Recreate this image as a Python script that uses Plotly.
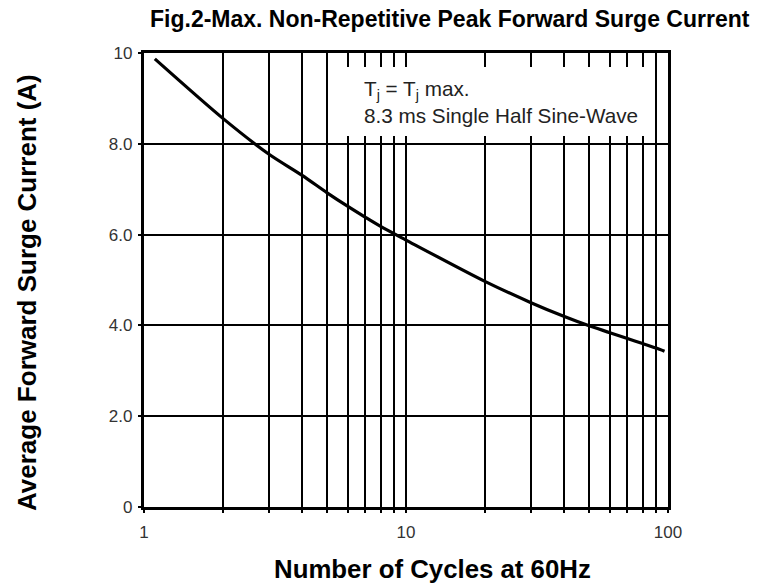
import math
import plotly.graph_objects as go

# ---- data ----
cycles = [1.1, 2, 3, 4, 5, 6, 7, 8, 10, 20, 30, 40, 50, 60, 70, 80, 90, 97]
current = [9.87, 8.56, 7.77, 7.31, 6.92, 6.62, 6.38, 6.18, 5.88, 4.97, 4.50,
           4.20, 3.99, 3.84, 3.71, 3.60, 3.50, 3.43]

x_grid = [1, 2, 3, 4, 5, 6, 7, 8, 9, 10, 20, 30, 40, 50, 60, 70, 80, 90, 100]
x_labels = ["1", "", "", "", "", "", "", "", "", "10", "", "", "", "", "", "", "", "", "100"]
y_ticks = [0, 2, 4, 6, 8, 10]
y_labels = ["0", "2.0", "4.0", "6.0", "8.0", "10"]

title = "<b>Fig.2-Max. Non-Repetitive Peak Forward Surge Current</b>"
x_title = "<b>Number of Cycles at 60Hz</b>"
y_title = "<b>Average Forward Surge Current (A)</b>"
note = "T<sub>j</sub> = T<sub>j</sub> max.<br>8.3 ms Single Half Sine-Wave"

FONT = "Liberation Sans, Arial, Helvetica, sans-serif"

# plot area in page pixels (page has an 8px body offset)
OFF = 8
L, T, PW, PH = 144 - OFF, 53 - OFF, 524, 454

fig = go.Figure()
fig.add_trace(go.Scatter(
    x=cycles, y=current, mode="lines",
    line=dict(color="black", width=3.2, shape="spline", smoothing=0.8),
    showlegend=False, hoverinfo="skip"))

# white box behind the note (cuts the grid lines, leaving short ticks)
fig.add_shape(type="rect", xref="x", yref="y", layer="above",
              x0=5.5, x1=85, y0=8.17, y1=9.69,
              fillcolor="white", line=dict(width=0))

fig.add_annotation(x=math.log10(6.8), y=9.52, xref="x", yref="y",
                   text=note, showarrow=False, xanchor="left", yanchor="top",
                   align="left", font=dict(family=FONT, size=20.7, color="#222"))

# titles as paper annotations for exact placement (target pixel positions)
def px(xp):
    return (xp - 144) / PW

def py(yp):
    return (507 - yp) / PH

fig.add_annotation(x=px(450), y=py(19), xref="paper", yref="paper",
                   text=title, showarrow=False, xanchor="center", yanchor="middle",
                   font=dict(family=FONT, size=23, color="black"))
fig.add_annotation(x=px(432), y=py(569), xref="paper", yref="paper",
                   text=x_title, showarrow=False, xanchor="center", yanchor="middle",
                   font=dict(family=FONT, size=25.8, color="black"))
fig.add_annotation(x=px(27), y=py(293), xref="paper", yref="paper",
                   text=y_title, showarrow=False, xanchor="center", yanchor="middle",
                   textangle=-90, font=dict(family=FONT, size=26, color="black"))

fig.update_layout(
    width=764, height=585,
    margin=dict(l=L, r=764 - L - PW, t=T, b=585 - T - PH, autoexpand=False),
    paper_bgcolor="white", plot_bgcolor="white",
    font=dict(family=FONT, color="#333"),
    xaxis=dict(type="log", range=[0, 2], tickvals=x_grid, ticktext=x_labels,
               showgrid=True, gridcolor="black", gridwidth=1.6,
               showline=True, linecolor="black", linewidth=3.2, mirror=True,
               ticks="outside", ticklen=3, tickcolor="black", tickwidth=1.6,
               tickfont=dict(size=17, color="#333"), automargin=False,
               ticklabelstandoff=4,
               zeroline=False),
    yaxis=dict(range=[0, 10], tickvals=y_ticks, ticktext=y_labels,
               showgrid=True, gridcolor="black", gridwidth=1.6,
               showline=True, linecolor="black", linewidth=3.2, mirror=True,
               ticks="outside", ticklen=3, tickcolor="black", tickwidth=1.6,
               tickfont=dict(size=17, color="#333"), automargin=False,
               ticklabelstandoff=2,
               zeroline=False),
)

fig.write_html("out.html")
